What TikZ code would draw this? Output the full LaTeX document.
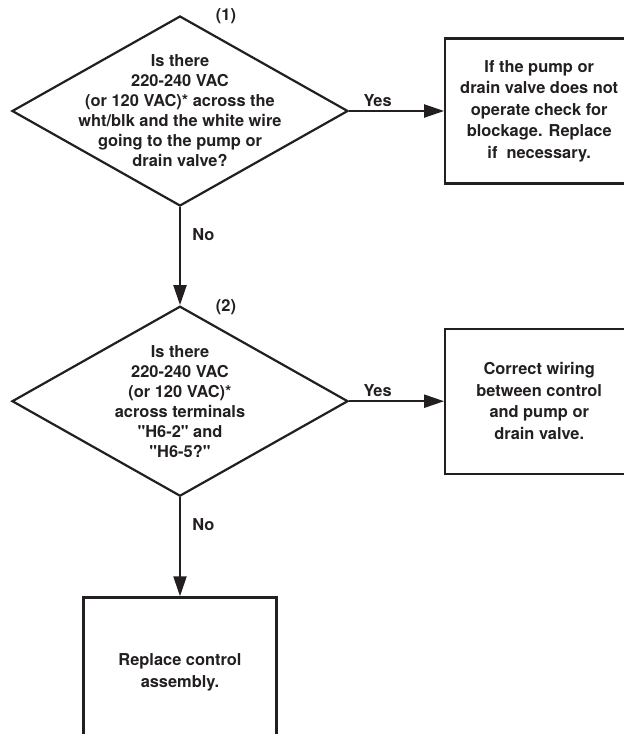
\documentclass[tikz,border=0pt]{standalone}
\usepackage{fontspec}
\setmainfont{TeX Gyre Heros}
\usetikzlibrary{shapes.geometric, arrows.meta, positioning}
\definecolor{inkblack}{RGB}{35, 31, 32}

\begin{document}
\begin{tikzpicture}[
    x=1pt, y=-1pt,
    node distance=98pt and 95pt,
    decision/.style={diamond, draw=inkblack, line width=2.2pt, minimum width=336pt,
                minimum height=190pt, inner sep=0pt},
    qtext/.style={align=center, font=\bfseries\fontsize{16.4}{20}\selectfont, text=inkblack},
    box/.style={rectangle, draw=inkblack, line width=2.2pt, minimum width=188pt,
                minimum height=145pt, align=center, font=\bfseries\fontsize{16.4}{21.5}\selectfont, text=inkblack},
    arrow/.style={-{Triangle[length=20pt, width=13pt]}, line width=2.2pt, draw=inkblack},
    answer/.style={font=\bfseries\fontsize{16.4}{20}\selectfont, text=inkblack}
]
    \useasboundingbox (0,0) rectangle (624,734);

    \node[decision, label={[qtext]center:{Is there\\220-240 VAC\\(or 120 VAC)* across the\\wht/blk and the white wire\\going to the pump or\\drain valve?}}] (q1) at (180,111) {};
    \node[box, right=of q1] (fix1) {If the pump or\\drain valve does not\\operate check for\\blockage. Replace\\if~ necessary.};
    \node[decision, below=of q1, label={[qtext]center:{Is there\\220-240 VAC\\(or 120 VAC)*\\across terminals\\\textquotedbl H6-2\textquotedbl{} and\\\textquotedbl H6-5?\textquotedbl}}] (q2) {};
    \node[box, right=of q2] (fix2) {Correct wiring\\between control\\and pump or\\drain valve.};
    \node[box, below=99pt of q2, minimum width=193pt, minimum height=150pt] (fix3) {Replace control\\ assembly.};

    \node[answer] (n1) at ([xshift=46pt, yshift=-1pt]q1.north) {(1)};
    \node[answer] (n2) at ([xshift=46pt, yshift=-2pt]q2.north) {(2)};

    \draw[arrow] (q1) -- node[answer, above, pos=0.3]{Yes} (fix1);
    \draw[arrow] (q1) -- node[answer, right=8pt, pos=0.28]{No} (q2);
    \draw[arrow] (q2) -- node[answer, above, pos=0.3]{Yes} (fix2);
    \draw[arrow] (q2) -- node[answer, right=8pt, pos=0.28]{No} (fix3);
\end{tikzpicture}
\end{document}
